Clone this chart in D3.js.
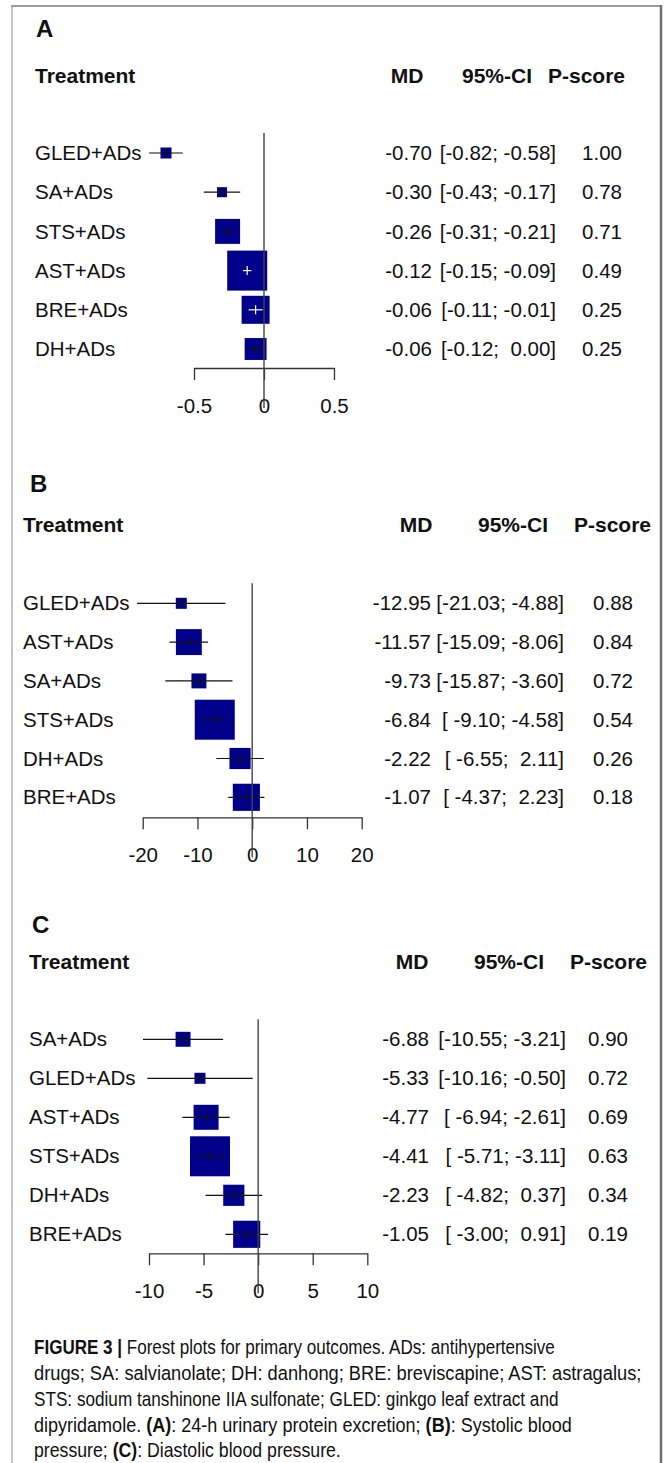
<!DOCTYPE html>
<html>
<head>
<meta charset="utf-8">
<script src="https://cdn.jsdelivr.net/npm/d3@7"></script>
<style>
  body { margin: 0; background: #fff; }
  svg { display: block; }
  text { font-family: "Liberation Sans", Arial, Helvetica, sans-serif; fill: #111; }
</style>
</head>
<body>
<script>
// ---- data: panel A, 24-h urinary protein excretion
const treatA = ["GLED+ADs", "SA+ADs", "STS+ADs", "AST+ADs", "BRE+ADs", "DH+ADs"];
const mdA = [-0.70, -0.30, -0.26, -0.12, -0.06, -0.06];
const loA = [-0.82, -0.43, -0.31, -0.15, -0.11, -0.12];
const hiA = [-0.58, -0.17, -0.21, -0.09, -0.01, 0.00];
const pA = [1.00, 0.78, 0.71, 0.49, 0.25, 0.25];
const wA = [7.6, 6.3, 39, 100, 49, 30];   // relative weight (square area)
const ticksA = [-0.5, 0, 0.5];

// ---- panel B, systolic blood pressure
const treatB = ["GLED+ADs", "AST+ADs", "SA+ADs", "STS+ADs", "DH+ADs", "BRE+ADs"];
const mdB = [-12.95, -11.57, -9.73, -6.84, -2.22, -1.07];
const loB = [-21.03, -15.09, -15.87, -9.10, -6.55, -4.37];
const hiB = [-4.88, -8.06, -3.60, -4.58, 2.11, 2.23];
const pB = [0.88, 0.84, 0.72, 0.54, 0.26, 0.18];
const wB = [7.6, 42, 14, 100, 28, 46];
const ticksB = [-20, -10, 0, 10, 20];

// ---- panel C, diastolic blood pressure
const treatC = ["SA+ADs", "GLED+ADs", "AST+ADs", "STS+ADs", "DH+ADs", "BRE+ADs"];
const mdC = [-6.88, -5.33, -4.77, -4.41, -2.23, -1.05];
const loC = [-10.55, -10.16, -6.94, -5.71, -4.82, -3.00];
const hiC = [-3.21, -0.50, -2.61, -3.11, 0.37, 0.91];
const pC = [0.90, 0.72, 0.69, 0.63, 0.34, 0.19];
const wC = [14, 7.6, 39, 100, 28, 46];
const ticksC = [-10, -5, 0, 5, 10];

const width = 664;
const height = 1463;

const svg = d3.select("body")
    .append("svg")
    .attr("width", width)
    .attr("height", height);

// frame
svg.append("line").attr("x1", 12).attr("x2", 12).attr("y1", 6).attr("y2", height)
    .attr("stroke", "#c4c4c4").attr("stroke-width", 2);
svg.append("line").attr("x1", 11).attr("x2", 662).attr("y1", 6).attr("y2", 6)
    .attr("stroke", "#9a9a9a").attr("stroke-width", 2);
svg.append("line").attr("x1", 661).attr("x2", 661).attr("y1", 5).attr("y2", height)
    .attr("stroke", "#6e6e6e").attr("stroke-width", 2.5);

const boxSize = d3.scaleSqrt().domain([0, 100]).range([0, 40]);
const f2 = v => v.toFixed(2);
const pad = (s, n) => " ".repeat(Math.max(0, n - s.length)) + s;

function drawPanel(c) {
    const g = svg.append("g");
    const n = c.treat.length;

    const x = d3.scaleLinear()
        .domain(d3.extent(c.ticks))
        .range(c.xRange);
    const y = d3.scalePoint()
        .domain(c.treat)
        .range([c.row0, c.row0 + (n - 1) * c.rowStep]);

    // letter + headers
    g.append("text").attr("x", c.letterX).attr("y", c.letterY).attr("dy", "0.35em")
        .style("font-size", "24px").style("font-weight", "bold").attr("fill", "#000").text(c.letter);
    const head = g.append("g").style("font-size", "21px").style("font-weight", "bold");
    head.append("text").attr("x", c.labelX).attr("y", c.headY).attr("dy", "0.35em").text("Treatment");
    head.append("text").attr("x", c.headMd).attr("y", c.headY).attr("dy", "0.35em")
        .attr("text-anchor", "middle").text("MD");
    head.append("text").attr("x", c.headCi).attr("y", c.headY).attr("dy", "0.35em").text("95%-CI");
    head.append("text").attr("x", c.headP).attr("y", c.headY).attr("dy", "0.35em")
        .attr("text-anchor", "end").text("P-score");

    const rows = c.treat.map((t, i) => ({
        t, md: c.md[i], lo: c.lo[i], hi: c.hi[i], p: c.p[i], w: c.w[i]
    }));
    const loLen = d3.max(rows, d => f2(d.lo).length);
    const hiLen = d3.max(rows, d => f2(d.hi).length);

    // axis
    const axis = d3.axisBottom(x)
        .tickValues(c.ticks)
        .tickSize(12)
        .tickSizeOuter(0)
        .tickFormat(d => String(d));
    const ax = g.append("g")
        .attr("transform", `translate(0,${c.axisY})`)
        .call(axis);
    ax.select(".domain").attr("stroke", "#333").attr("stroke-width", 1.3);
    ax.selectAll(".tick line").attr("stroke", "#333").attr("stroke-width", 1.3);
    ax.selectAll(".tick text")
        .attr("y", 37.5).attr("dy", "0.35em")
        .style("font-size", "20.5px").style("font-family", "'Liberation Sans', Arial, sans-serif")
        .attr("fill", "#111");

    // squares and CI lines
    const mark = g.selectAll("g.row").data(rows).enter().append("g").attr("class", "row");
    mark.append("rect")
        .attr("x", d => x(d.md) - boxSize(d.w) / 2)
        .attr("y", d => y(d.t) - boxSize(d.w) / 2)
        .attr("width", d => boxSize(d.w))
        .attr("height", d => boxSize(d.w))
        .attr("fill", "#00008B");
    const inside = d => (x(d.hi) - x(d.lo)) < 0.53 * boxSize(d.w);
    mark.append("line")
        .attr("x1", d => x(d.lo)).attr("x2", d => x(d.hi))
        .attr("y1", d => y(d.t)).attr("y2", d => y(d.t))
        .attr("stroke", d => inside(d) ? "#fff" : "#111").attr("stroke-width", 1.2);
    mark.append("line")
        .attr("x1", d => x(d.md)).attr("x2", d => x(d.md))
        .attr("y1", d => y(d.t) - 4.5).attr("y2", d => y(d.t) + 4.5)
        .attr("stroke", d => inside(d) ? "#fff" : "#111").attr("stroke-width", 1.2);

    // reference line at 0
    g.append("line")
        .attr("x1", x(0)).attr("x2", x(0))
        .attr("y1", c.row0 - 20).attr("y2", c.axisY + 40)
        .attr("stroke", "#444").attr("stroke-width", 1.4);

    // text columns
    const txt = g.selectAll("g.txt").data(rows).enter().append("g")
        .attr("class", "txt")
        .style("font-size", "20.5px")
        .attr("transform", d => `translate(0,${y(d.t)})`);
    txt.append("text").attr("x", c.labelX).attr("dy", "0.35em").text(d => d.t);
    txt.append("text").attr("x", c.mdX).attr("dy", "0.35em").attr("text-anchor", "end")
        .text(d => f2(d.md));
    txt.append("text").attr("x", c.ciX).attr("dy", "0.35em").attr("text-anchor", "end")
        .style("white-space", "pre")
        .text(d => `[${pad(f2(d.lo), loLen)}; ${pad(f2(d.hi), hiLen)}]`);
    txt.append("text").attr("x", c.pX).attr("dy", "0.35em").attr("text-anchor", "end")
        .text(d => f2(d.p));
}

drawPanel({
    letter: "A", letterX: 36, letterY: 29, headY: 76, labelX: 35,
    row0: 153, rowStep: 39.2, axisY: 368, xRange: [194, 334], ticks: ticksA,
    headMd: 407, headCi: 462, headP: 625, mdX: 432, ciX: 556, pX: 622,
    treat: treatA, md: mdA, lo: loA, hi: hiA, p: pA, w: wA
});
drawPanel({
    letter: "B", letterX: 30, letterY: 484, headY: 525, labelX: 23,
    row0: 603.3, rowStep: 38.8, axisY: 817.3, xRange: [142.7, 361.7], ticks: ticksB,
    headMd: 416, headCi: 478, headP: 651, mdX: 431, ciX: 564, pX: 633,
    treat: treatB, md: mdB, lo: loB, hi: hiB, p: pB, w: wB
});
drawPanel({
    letter: "C", letterX: 32, letterY: 925, headY: 962, labelX: 29,
    row0: 1039.3, rowStep: 39, axisY: 1253.3, xRange: [149, 367.3], ticks: ticksC,
    headMd: 412, headCi: 474, headP: 647, mdX: 429, ciX: 566, pX: 628,
    treat: treatC, md: mdC, lo: loC, hi: hiC, p: pC, w: wC
});

// caption
const capLines = [
    [["FIGURE 3 |", true], [" Forest plots for primary outcomes. ADs: antihypertensive", false]],
    [["drugs; SA: salvianolate; DH: danhong; BRE: breviscapine; AST: astragalus;", false]],
    [["STS: sodium tanshinone IIA sulfonate; GLED: ginkgo leaf extract and", false]],
    [["dipyridamole. ", false], ["(A)", true], [": 24-h urinary protein excretion; ", false], ["(B)", true], [": Systolic blood", false]],
    [["pressure; ", false], ["(C)", true], [": Diastolic blood pressure.", false]]
];
const capWidths = [521, 608, 525, 538, 307];
const capX = 34, capY0 = 1347, capStep = 25.8;

capLines.forEach((parts, i) => {
    const t = svg.append("text")
        .attr("y", 0).attr("dy", "0.35em")
        .style("font-size", "20.5px")
        .style("white-space", "pre")
        .attr("fill", "#222");
    parts.forEach(([s, b]) => {
        t.append("tspan").style("font-weight", b ? "bold" : "normal").text(s);
    });
    const natural = t.node().getComputedTextLength();
    t.attr("transform", `translate(${capX},${capY0 + i * capStep}) scale(${capWidths[i] / natural},1)`);
});
</script>
</body>
</html>
